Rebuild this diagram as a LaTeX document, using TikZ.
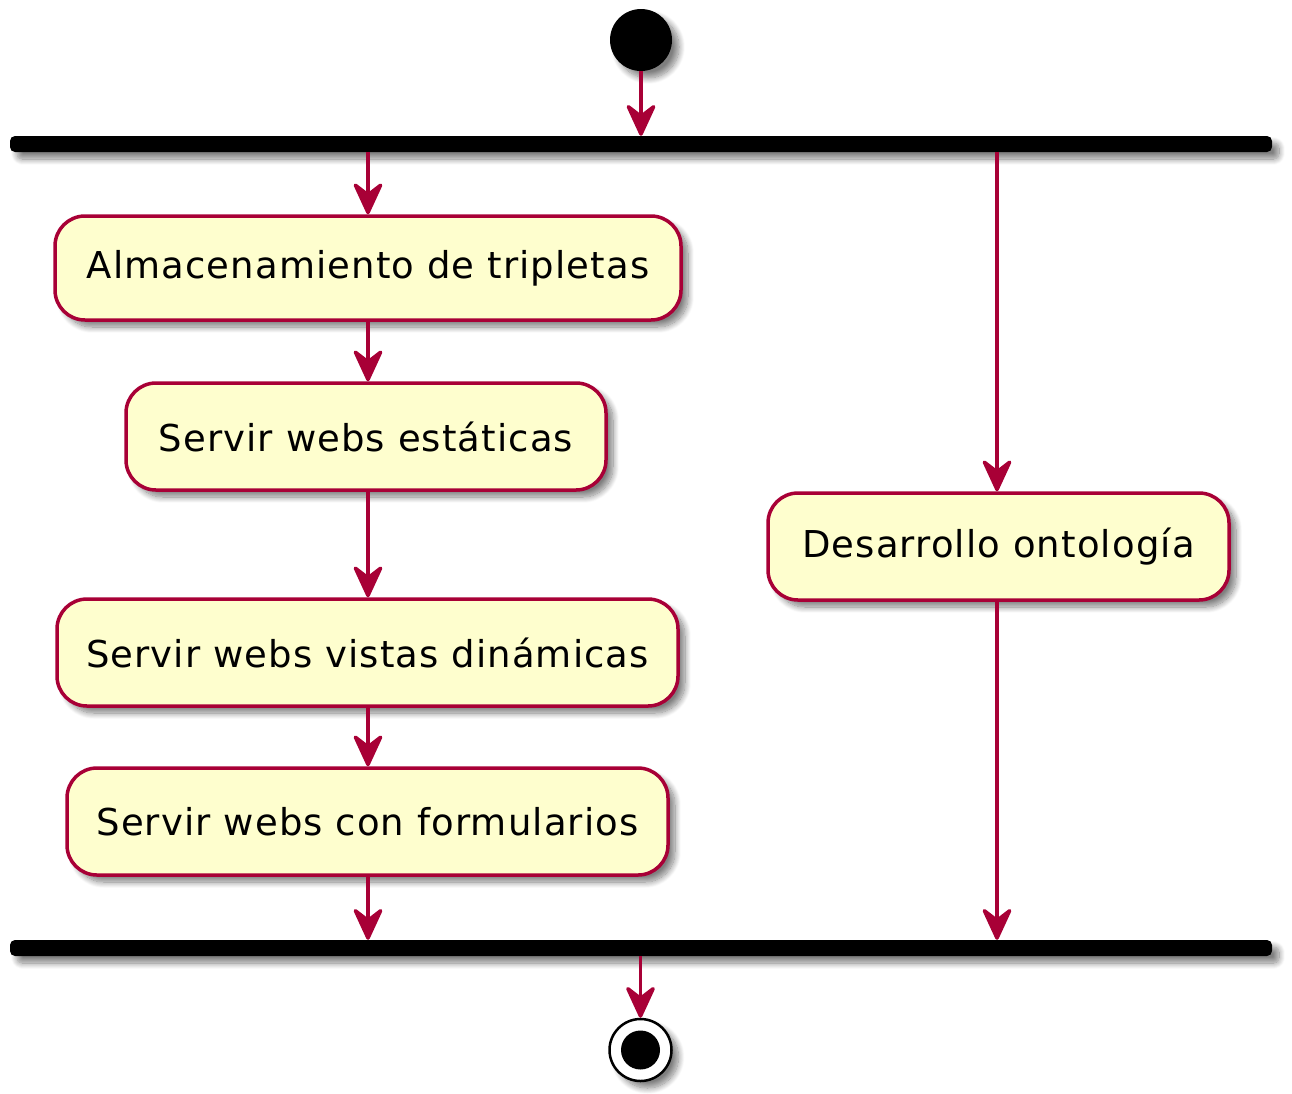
\documentclass[tikz,border=0pt]{standalone}
\usepackage{fontspec}
\setmainfont{DejaVu Sans}[LetterSpace=3]
\usetikzlibrary{arrows.meta,shadows.blur}
\definecolor{umlred}{RGB}{168,0,54}
\definecolor{umlfill}{RGB}{254,254,206}
\tikzset{
  shd/.style={blur shadow={shadow xshift=7pt, shadow yshift=-7pt, shadow blur steps=12, shadow blur radius=6pt, shadow opacity=50}},
  actbox/.style={shape=rectangle, rounded corners=30pt, draw=umlred, line width=3.5pt, fill=umlfill, shd,
     inner sep=0pt, font=\fontsize{37}{42}\selectfont, text=black},
  bar/.style={shape=rectangle, rounded corners=5pt, fill=black, minimum width=1262pt, minimum height=16pt, inner sep=0pt, shd},
  arr/.style={draw=umlred, line width=3.5pt, -{Stealth[length=37pt, width=34pt, inset=13pt, round]}, umlred},
}
\begin{document}
\begin{tikzpicture}[x=1pt,y=-1pt]
\useasboundingbox (0,0) rectangle (1292,1093);
% start
\node[circle, fill=black, minimum size=62pt, inner sep=0pt, shd] (start) at (641,40) {};
% bars
\node[bar] (fork) at (641,144) {};
\node[bar] (join) at (641,948) {};
% activities
\node[actbox, minimum width=626pt, minimum height=104pt] (a1) at (368,268) {Almacenamiento de tripletas};
\node[actbox, minimum width=480pt, minimum height=107pt] (a2) at (366,436.5) {Servir webs estáticas};
\node[actbox, minimum width=621pt, minimum height=107pt] (a3) at (367.5,652.5) {Servir webs vistas dinámicas};
\node[actbox, minimum width=601pt, minimum height=107pt] (a4) at (367.5,821.5) {Servir webs con formularios};
\node[actbox, minimum width=461pt, minimum height=107pt] (a5) at (998.5,546.5) {Desarrollo ontología};
% end
\node[circle, fill=white, draw=black, line width=2.5pt, minimum size=62pt, inner sep=0pt, shd] (stop) at (640.5,1050) {};
\node[circle, fill=black, minimum size=39pt, inner sep=0pt] (stopin) at (stop.center) {};
% connectors
\draw[arr] (start.south) -- (start.south |- fork.north);
\draw[arr] (fork.south -| 368,0) -- (368,0 |- a1.north);
\draw[arr] (a1.south -| 368,0) -- (368,0 |- a2.north);
\draw[arr] (a2.south -| 368,0) -- (368,0 |- a3.north);
\draw[arr] (a3.south -| 368,0) -- (368,0 |- a4.north);
\draw[arr] (a4.south -| 368,0) -- (368,0 |- join.north);
\draw[arr] (fork.south -| 997,0) -- (997,0 |- a5.north);
\draw[arr] (a5.south -| 997,0) -- (997,0 |- join.north);
\draw[arr] (join.south -| stop.north) -- (stop.north);
\end{tikzpicture}
\end{document}
